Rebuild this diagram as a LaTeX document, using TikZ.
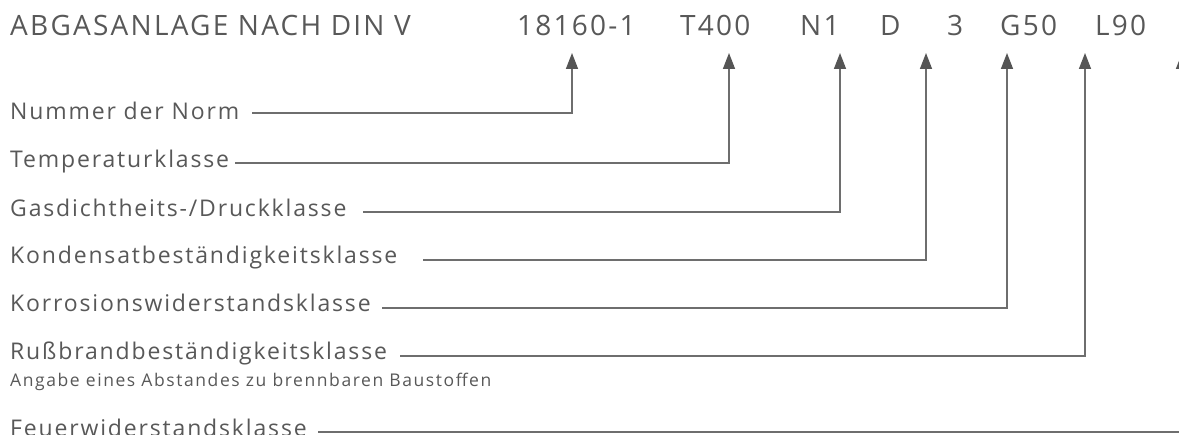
\documentclass[tikz,border=0pt]{standalone}
\usepackage{fontspec}
\setmainfont{Open Sans}
\newfontfamily\trk[LetterSpace=8]{Open Sans}
\newfontfamily\trks[LetterSpace=9]{Open Sans}
\usetikzlibrary{arrows.meta}
\definecolor{txt}{HTML}{585858}
\definecolor{ln}{HTML}{6E6E6E}
\definecolor{tip}{HTML}{555555}
\begin{document}
\begin{tikzpicture}[x=1pt,y=-1pt,
  lab/.style={anchor=base west,inner sep=0pt,text=txt,font=\trk\fontsize{23}{27}\selectfont},
  ttl/.style={anchor=base west,inner sep=0pt,text=txt,font=\trk\fontsize{28}{32}\selectfont},
  sub/.style={anchor=base west,inner sep=0pt,text=txt,font=\trks\fontsize{17.5}{20}\selectfont},
  conn/.style={draw=ln,line width=1.5pt,-{Triangle[width=12pt,length=16pt,color=tip]}}]
\useasboundingbox (0,0) rectangle (1179,435);
\node[ttl] (title) at (10,36) {ABGASANLAGE NACH DIN V};
\node[ttl] (n1) at (517,36) {18160-1};
\node[ttl] (n2) at (680,36) {T400};
\node[ttl] (n3) at (800,36) {N1};
\node[ttl] (n4) at (880,36) {D};
\node[ttl] (n5) at (947,36) {3};
\node[ttl] (n6) at (1000,36) {G50};
\node[ttl] (n7) at (1095,36) {L90};
\node[lab] (l1) at (10,120) {Nummer der Norm};
\node[lab] (l2) at (10,168) {Temperaturklasse};
\node[lab] (l3) at (10,217) {Gasdichtheits-/Druckklasse};
\node[lab] (l4) at (10,264) {Kondensatbeständigkeitsklasse};
\node[lab] (l5) at (10,312) {Korrosionswiderstandsklasse};
\node[lab] (l6) at (10,360) {Rußbrandbeständigkeitsklasse};
\node[sub] (l6b) at (10,387) {Angabe eines Abstandes zu brennbaren Baustoffen};
\node[lab] (l7) at (10,437) {Feuerwiderstandsklasse};
\coordinate (s1) at (252,113); \coordinate (t1) at (572,53);
\coordinate (s2) at (235,163); \coordinate (t2) at (729,53);
\coordinate (s3) at (363,212); \coordinate (t3) at (840,53);
\coordinate (s4) at (423,260); \coordinate (t4) at (926,53);
\coordinate (s5) at (382,308); \coordinate (t5) at (1007,53);
\coordinate (s6) at (400,356); \coordinate (t6) at (1085,53);
\coordinate (s7) at (318,432); \coordinate (t7) at (1182,53);
\foreach \i in {1,...,7} \draw[conn] (s\i) -| (t\i);
\end{tikzpicture}
\end{document}
